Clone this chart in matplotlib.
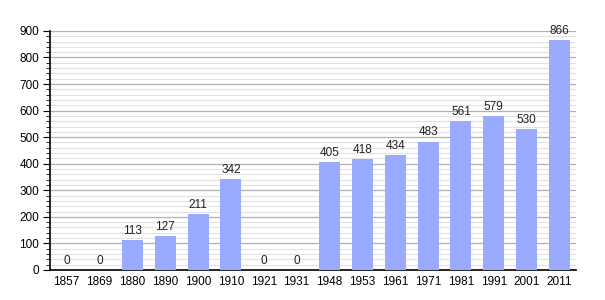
import matplotlib
matplotlib.use("Agg")
import matplotlib.pyplot as plt
from matplotlib.ticker import MultipleLocator

years = ["1857", "1869", "1880", "1890", "1900", "1910", "1921", "1931",
         "1948", "1953", "1961", "1971", "1981", "1991", "2001", "2011"]
population = [0, 0, 113, 127, 211, 342, 0, 0,
              405, 418, 434, 483, 561, 579, 530, 866]

plt.rcParams['font.family'] = ['Liberation Sans', 'DejaVu Sans']

fig = plt.figure(figsize=(6.05, 3.0), dpi=100)
ax = fig.add_axes([0.083, 0.1, 0.869, 0.797])

x = range(len(years))
ax.bar(x, population, width=0.64, color='#99aaff', zorder=3)
for xi, v in zip(x, population):
    ax.text(xi, v + 12, str(v), ha='center', va='bottom', fontsize=8.5, color='#222222')

ax.set_xlim(-0.5, len(years) - 0.5)
ax.set_ylim(0, 900)
ax.set_xticks(list(x))
ax.set_xticklabels(years)
ax.yaxis.set_major_locator(MultipleLocator(100))
ax.yaxis.set_minor_locator(MultipleLocator(20))
ax.grid(axis='y', which='major', color='#b0b0b0', linewidth=0.9, zorder=0)
ax.grid(axis='y', which='minor', color='#e2e2e2', linewidth=0.8, zorder=0)
ax.tick_params(axis='x', length=0, labelsize=8.5, pad=4)
ax.tick_params(axis='y', which='major', length=5, labelsize=8.5, direction='out', pad=3)
ax.tick_params(axis='y', which='minor', length=3, direction='out')
for s in ['top', 'right']:
    ax.spines[s].set_visible(False)
ax.spines['left'].set_linewidth(1.2)
ax.spines['bottom'].set_linewidth(1.2)

fig.savefig("out.png", dpi=100)
